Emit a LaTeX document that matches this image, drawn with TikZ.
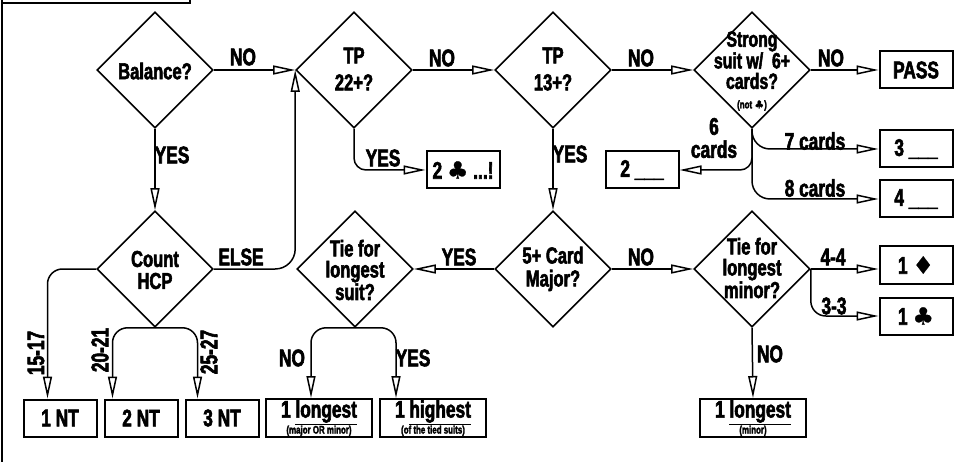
\documentclass[tikz,border=0pt]{standalone}
\usepackage{fontspec}
\setmainfont{Liberation Sans}[UprightFont={* Bold}, BoldFont={* Bold}, FakeStretch=0.72, FakeBold=2.4]
\newfontfamily\symf{DejaVu Sans}[FakeBold=1]
\usetikzlibrary{shapes.geometric,arrows.meta}
\newcommand\clubsym{{\symf ♣}}
\newcommand\diamsym{{\symf ♦}}
\newcommand\subt[1]{{\fontsize{11}{11}\selectfont #1}}
\begin{document}
\begin{tikzpicture}[x=1pt,y=-1pt,
  dia/.style={draw, diamond, aspect=1, minimum width=116pt, minimum height=116pt, inner sep=0pt, line width=1.6pt},
  dtxt/.style={align=center, font=\fontsize{23}{21}\selectfont, inner sep=0pt},
  bx/.style={draw, line width=2pt, minimum width=73pt, minimum height=37pt, inner sep=0pt, font=\fontsize{24}{22}\selectfont},
  wbx/.style={bx, minimum width=106pt, minimum height=38pt, align=center},
  lbl/.style={font=\fontsize{24}{21}\selectfont, inner sep=0pt, align=center},
  arr/.style={line width=1.5pt, -{Triangle[open, length=22pt, width=9pt]}},
]
\useasboundingbox (0,0) rectangle (971,462);
% frame pieces
\draw[line width=2pt] (2,-20) rectangle (190,3);
\draw[line width=2pt] (2,0) -- (2,470);

% diamonds
\node[dia] (bal) at (155,70) {};
\node[dtxt] (balt) at (155,71) {Balance?};
\node[dia] (tp22) at (354,70) {};
\node[dtxt] (tp22t) at (354,69) {TP\\[6pt]22+?};
\node[dia] (tp13) at (553,70) {};
\node[dtxt] (tp13t) at (553,69) {TP\\[6pt]13+?};
\node[dia] (str) at (752,70) {};
\node[dtxt, font=\fontsize{22}{20.5}\selectfont] (strt) at (752,71) {Strong\\suit w/\ \ 6+\\cards?\\[-1pt]\subt{(not \clubsym)}};
\node[dia] (hcp) at (155,269) {};
\node[dtxt, font=\fontsize{23}{22}\selectfont] (hcpt) at (155,270) {Count\\HCP};
\node[dia] (maj) at (553,269) {};
\node[dtxt, font=\fontsize{23}{23}\selectfont] (majt) at (553,269) {5+ Card\\Major?};
\node[dia] (tsuit) at (355,269) {};
\node[dtxt] (tsuitt) at (355,270) {Tie for\\longest\\suit?};
\node[dia] (tmin) at (752,269) {};
\node[dtxt] (tmint) at (752,268) {Tie for\\longest\\minor?};

% boxes
\node[bx] (pass) at (916,70) {PASS};
\node[bx] (three) at (916,149) {3 \_\_\_};
\node[bx] (four) at (916,199) {4 \_\_\_};
\node[bx] (twoc) at (463,170) {2 \clubsym\ ...!};
\node[bx] (two) at (642,170) {2 \_\_\_};
\node[bx] (oned) at (916,265) {1 \diamsym};
\node[bx] (onec) at (916,316) {1 \clubsym};
\node[bx] (nt1) at (60,418) {1 NT};
\node[bx] (nt2) at (141,418) {2 NT};
\node[bx] (nt3) at (222,418) {3 NT};
\node[wbx] (lgs) at (319,418) {1 \underline{longest}\\[-6pt]\subt{(major OR minor)}};
\node[wbx] (hig) at (433,418) {1 \underline{highest}\\[-6pt]\subt{(of the tied suits)}};
\node[wbx] (lgm) at (753,418) {1 \underline{longest}\\[-6pt]\subt{(minor)}};

% connectors
\draw[arr] (bal.east) -- (tp22.west);
\draw[arr] (bal.south) -- (hcp.north);
\draw[arr] (tp22.east) -- (tp13.west);
\draw[arr] (tp13.east) -- (str.west);
\draw[arr] (str.east) -- (pass.west);
\draw[arr, rounded corners=12pt] (tp22.south) |- (twoc.west);
\draw[arr] (tp13.south) -- (maj.north);
\draw[arr, rounded corners=12pt] (str.south) |- (two.east);
\draw[arr, rounded corners=18pt] (str.south) |- (three.west);
\draw[arr, rounded corners=18pt] (str.south) |- (four.west);
\draw[arr, rounded corners=20pt] (hcp.east) -| (tp22.west);
\draw[arr, rounded corners=15pt] (hcp.west) -| ([xshift=25pt]nt1.north west);
\draw[arr, rounded corners=15pt] (hcp.south) -| ([xshift=9pt]nt2.north west);
\draw[arr, rounded corners=15pt] (hcp.south) -| ([xshift=13pt]nt3.north west);
\draw[arr] (maj.west) -- (tsuit.east);
\draw[arr] (maj.east) -- (tmin.west);
\draw[arr, rounded corners=15pt] (tsuit.south) -| ([xshift=46pt]lgs.north west);
\draw[arr, rounded corners=15pt] (tsuit.south) -| ([xshift=17pt]hig.north west);
\draw[arr] (tmin.east) -- (tmin.east -| oned.west);
\draw[arr, rounded corners=15pt] (tmin.east) |- (onec.west);
\draw[arr] (tmin.south) -- (lgm.north);

% labels
\node[lbl] (l1) at (243,57) {NO};
\node[lbl] (l2) at (172,155) {YES};
\node[lbl] (l3) at (442,58) {NO};
\node[lbl] (l4) at (641,58) {NO};
\node[lbl] (l5) at (831,58) {NO};
\node[lbl] (l6) at (383,158) {YES};
\node[lbl] (l7) at (570,154) {YES};
\node[lbl, font=\fontsize{24}{23}\selectfont] (l8) at (714,138) {6\\cards};
\node[lbl] (l9) at (815,141) {7 cards};
\node[lbl] (l10) at (815,188) {8 cards};
\node[lbl] (l11) at (241,257) {ELSE};
\node[lbl] (l12) at (459,257) {YES};
\node[lbl] (l13) at (641,257) {NO};
\node[lbl] (l14) at (833,257) {4-4};
\node[lbl] (l15) at (834,306) {3-3};
\node[lbl] (l16) at (770,354) {NO};
\node[lbl] (l17) at (292,358) {NO};
\node[lbl] (l18) at (413,358) {YES};
\node[lbl, rotate=90] (l19) at (36,353) {15-17};
\node[lbl, rotate=90] (l20) at (100,350) {20-21};
\node[lbl, rotate=90] (l21) at (209,352) {25-27};
\end{tikzpicture}
\end{document}
